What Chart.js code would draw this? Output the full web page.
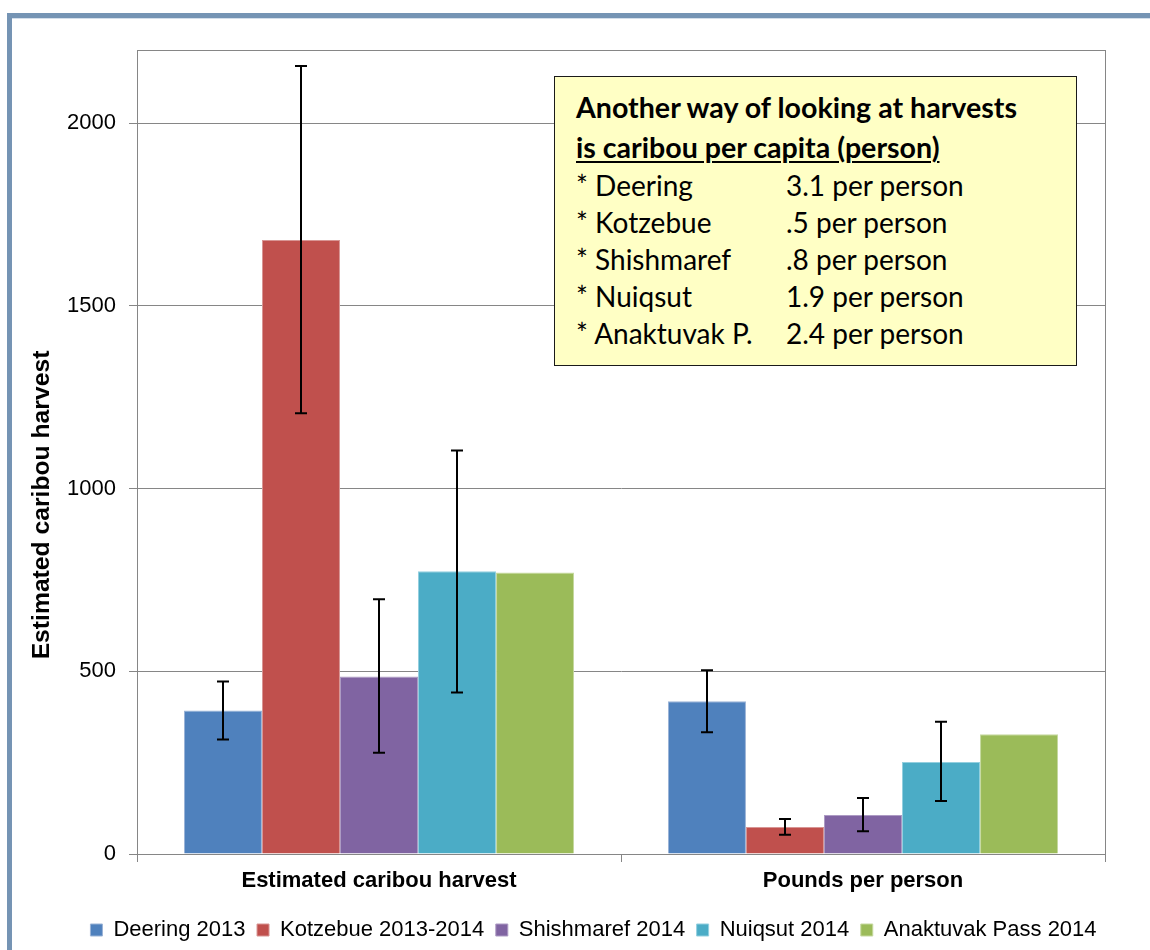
<!DOCTYPE html>
<html>
<head>
<meta charset="utf-8">
<script src="https://cdn.jsdelivr.net/npm/chart.js@4.4.1/dist/chart.umd.min.js"></script>
<style>
  html, body { margin:0; padding:0; background:#fff; }
  #wrap { position:relative; width:1150px; height:950px; overflow:hidden; }
  #c { position:absolute; left:0; top:0; }
  #note {
    position:absolute; left:554px; top:76px; width:521px; height:288px;
    border:1px solid #1a1a1a; background:#FFFFC5;
    font-family:"Lato","Open Sans",sans-serif; font-size:28px; color:#000;
    box-sizing:content-box;
  }
  #note .t { position:absolute; left:21px; font-weight:bold; font-size:28.6px; white-space:nowrap; line-height:30px; }
  #note .r { position:absolute; left:21px; white-space:nowrap; line-height:30px; }
  #note .r span.a { display:inline-block; width:210px; }
  #note .u { text-decoration:underline; text-decoration-thickness:2px; text-underline-offset:3px; }
</style>
</head>
<body>
<div id="wrap">
<canvas id="c" width="1150" height="950"></canvas>
<div id="note"></div>
</div>
<script>
// ---------- data ----------
const categories = ['Estimated caribou harvest', 'Pounds per person'];
const seriesNames = ['Deering 2013', 'Kotzebue 2013-2014', 'Shishmaref 2014', 'Nuiqsut 2014', 'Anaktuvak Pass 2014'];
const deering    = [393, 418];
const kotzebue   = [1680, 74];
const shishmaref = [486, 107];
const nuiqsut    = [774, 252];
const anaktuvak  = [770, 328];
const deeringErrLow    = [313, 333];
const deeringErrHigh   = [472, 503];
const kotzebueErrLow   = [1206, 53];
const kotzebueErrHigh  = [2156, 96];
const shishmarefErrLow = [277, 62];
const shishmarefErrHigh= [697, 153];
const nuiqsutErrLow    = [442, 145];
const nuiqsutErrHigh   = [1104, 362];
const anaktuvakErrLow  = [null, null];
const anaktuvakErrHigh = [null, null];
const yTicks = [0, 500, 1000, 1500, 2000];
const yTickLabels = ['0', '500', '1000', '1500', '2000'];
const yMax = 2200;
const yTitle = 'Estimated caribou harvest';
const noteTitle1 = 'Another way of looking at harvests';
const noteTitle2 = 'is caribou per capita (person)';
const noteNames  = ['* Deering', '* Kotzebue', '* Shishmaref', '* Nuiqsut', '* Anaktuvak P.'];
const noteValues = ['3.1 per person', '.5 per person', '.8 per person', '1.9 per person', '2.4 per person'];

// ---------- styles ----------
const colors = ['#4F81BD', '#C0504D', '#8064A2', '#4BACC6', '#9BBB59'];
const edge   = ['#9AB3D6', '#D89594', '#AD9BC4', '#93CFDF', '#C6D9A0'];
const values = [deering, kotzebue, shishmaref, nuiqsut, anaktuvak];
const errLow = [deeringErrLow, kotzebueErrLow, shishmarefErrLow, nuiqsutErrLow, anaktuvakErrLow];
const errHigh= [deeringErrHigh, kotzebueErrHigh, shishmarefErrHigh, nuiqsutErrHigh, anaktuvakErrHigh];

// note box
const note = document.getElementById('note');
const lineTops = [15, 55, 92.5, 129.5, 166.5, 203.5, 240.5];
let h = '';
h += '<div class="t" style="top:' + lineTops[0] + 'px">' + noteTitle1 + '</div>';
h += '<div class="t" style="top:' + lineTops[1] + 'px"><span class="u">' + noteTitle2 + '</span></div>';
for (let i = 0; i < noteNames.length; i++) {
  h += '<div class="r" style="top:' + lineTops[i + 2] + 'px"><span class="a">' + noteNames[i] + '</span>' + noteValues[i] + '</div>';
}
note.innerHTML = h;

const FONT = '"Liberation Sans", Arial, sans-serif';
const GRID = '#868686';

const framePlugin = {
  id: 'frame',
  afterLayout(chart) {
    if (chart.legend) {
      chart.legend.left += 31;
      chart.legend.right += 31;
      chart.legend.top += 1;
      chart.legend.bottom += 1;
    }
  },
  beforeDraw(chart) {
    const c = chart.ctx;
    c.save();
    c.fillStyle = '#fff';
    c.fillRect(0, 0, chart.width, chart.height);
    c.fillStyle = '#7594B4';
    c.fillRect(7, 13, chart.width - 7, 5);
    c.fillRect(7, 13, 5, chart.height - 13);
    c.fillStyle = '#D3DEEA';
    c.fillRect(12, 18, chart.width - 12, 1);
    c.restore();
  },
  afterDraw(chart) {
    const c = chart.ctx;
    const a = chart.chartArea;
    c.save();
    c.strokeStyle = GRID;
    c.lineWidth = 1;
    c.strokeRect(Math.round(a.left) + 0.5, Math.round(a.top) + 0.5, Math.round(a.right - a.left), Math.round(a.bottom - a.top));
    c.fillStyle = '#000';
    c.font = 'bold 24.7px ' + FONT;
    c.textAlign = 'center';
    c.textBaseline = 'middle';
    c.translate(42, 505);
    c.rotate(-Math.PI / 2);
    c.fillText(yTitle, 0, 0);
    c.restore();
  }
};

const errorBarPlugin = {
  id: 'errorBars',
  afterDatasetsDraw(chart) {
    const c = chart.ctx;
    const ys = chart.scales.y;
    c.save();
    c.strokeStyle = '#000';
    c.lineWidth = 2;
    chart.data.datasets.forEach((ds, di) => {
      const meta = chart.getDatasetMeta(di);
      meta.data.forEach((bar, i) => {
        const lo = errLow[di][i], hi = errHigh[di][i];
        if (lo == null || hi == null) return;
        const x = Math.round(bar.x);
        const y1 = ys.getPixelForValue(lo), y2 = ys.getPixelForValue(hi);
        c.beginPath();
        c.moveTo(x, y1); c.lineTo(x, y2);
        c.moveTo(x - 6, y1); c.lineTo(x + 6, y1);
        c.moveTo(x - 6, y2); c.lineTo(x + 6, y2);
        c.stroke();
      });
    });
    c.restore();
  }
};

new Chart(document.getElementById('c'), {
  type: 'bar',
  data: {
    labels: categories,
    datasets: seriesNames.map((n, i) => ({
      label: n,
      data: values[i],
      backgroundColor: colors[i],
      borderColor: edge[i],
      borderWidth: 1,
      categoryPercentage: 0.806,
      barPercentage: 1
    }))
  },
  options: {
    responsive: false,
    animation: false,
    devicePixelRatio: 1,
    layout: { padding: { left: 20, right: 45, top: 50, bottom: 0 } },
    scales: {
      x: {
        grid: { offset: true, drawOnChartArea: false, drawTicks: true, tickLength: 8, color: GRID },
        border: { color: GRID },
        ticks: { color: '#000', font: { family: FONT, size: 22, weight: 'bold' }, padding: 6 },
        afterFit(s) { s.height = 52.5; }
      },
      y: {
        min: 0, max: yMax,
        afterBuildTicks(s) { s.ticks = yTicks.map(v => ({ value: v })); },
        grid: { color: GRID, tickLength: 8 },
        border: { color: GRID },
        ticks: {
          color: '#000', font: { family: FONT, size: 22 }, padding: 13,
          callback(v) { const k = yTicks.indexOf(v); return k >= 0 ? yTickLabels[k] : ''; }
        },
        afterFit(s) { s.width = 117; }
      }
    },
    plugins: {
      legend: {
        position: 'bottom',
        labels: { boxWidth: 12, boxHeight: 12, padding: 11.5, color: '#000', font: { family: FONT, size: 22 } }
      },
      tooltip: { enabled: false }
    }
  },
  plugins: [framePlugin, errorBarPlugin]
});
</script>
</body>
</html>
